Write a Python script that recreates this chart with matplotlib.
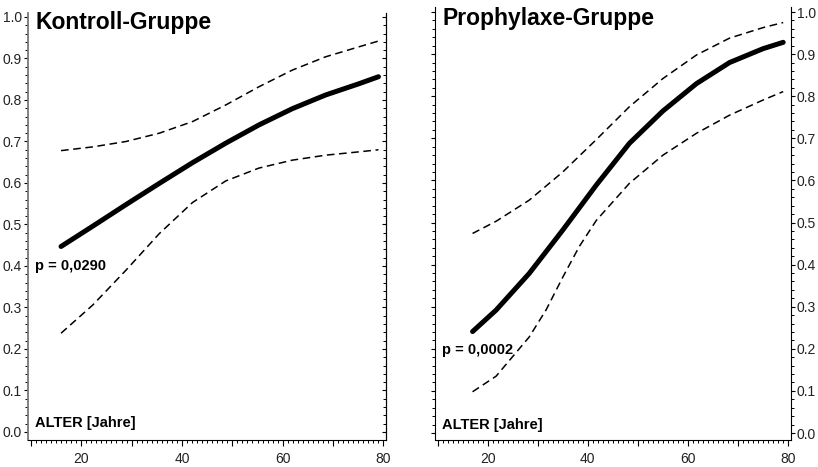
import matplotlib
matplotlib.use("Agg")
import matplotlib.pyplot as plt
from matplotlib.ticker import MultipleLocator, FuncFormatter

plt.rcParams["font.family"] = ["Liberation Sans", "DejaVu Sans"]

# Kontroll-Gruppe
AGE_K = [16.0, 22.3, 28.9, 35.5, 42.1, 48.7, 55.3, 61.9, 68.5, 75.1, 79.0]
FIT_K = [0.447, 0.496, 0.548, 0.599, 0.649, 0.696, 0.740, 0.779, 0.812, 0.839, 0.856]
UP_K = [0.678, 0.687, 0.700, 0.720, 0.748, 0.788, 0.832, 0.872, 0.904, 0.928, 0.942]
LO_K = [0.238, 0.306, 0.390, 0.478, 0.553, 0.605, 0.636, 0.655, 0.667, 0.675, 0.680]

# Prophylaxe-Gruppe
AGE_P = [17.0, 21.7, 28.3, 35.0, 41.7, 48.3, 55.0, 61.7, 68.3, 75.0, 79.0]
FIT_P = [0.241, 0.292, 0.379, 0.482, 0.589, 0.688, 0.765, 0.830, 0.880, 0.913, 0.928]
UP_P = [0.474, 0.503, 0.553, 0.620, 0.697, 0.775, 0.842, 0.898, 0.938, 0.963, 0.975]
AGE_P_LO = [17.0, 21.7, 28.3, 31.7, 35.0, 38.3, 41.7, 48.3, 55.0, 61.7, 68.3, 75.0, 79.0]
LO_P = [0.098, 0.135, 0.228, 0.293, 0.370, 0.443, 0.505, 0.593, 0.660, 0.712, 0.755, 0.791, 0.811]

TITLES = ["Kontroll-Gruppe", "Prophylaxe-Gruppe"]
PVALS = ["p = 0,0290", "p = 0,0002"]
XLABEL = "ALTER [Jahre]"

W, H = 818, 467
fig = plt.figure(figsize=(W / 100, H / 100), dpi=100)


def px_axes(x0, y0, x1, y1):
    return fig.add_axes([x0 / W, (H - y1) / H, (x1 - x0) / W, (y1 - y0) / H])


def label20(v, pos):
    return f"{int(round(v))}" if round(v) % 20 == 0 else ""


def setup(ax, ylim):
    ax.set_xlim(9.5, 80.5)
    ax.set_ylim(*ylim)
    ax.spines["top"].set_visible(False)
    ax.xaxis.set_major_locator(MultipleLocator(10))
    ax.xaxis.set_minor_locator(MultipleLocator(1))
    ax.xaxis.set_major_formatter(FuncFormatter(label20))
    ax.yaxis.set_major_locator(MultipleLocator(0.1))
    ax.yaxis.set_minor_locator(MultipleLocator(0.02))
    ax.yaxis.set_major_formatter(FuncFormatter(lambda v, p: f"{v:.1f}"))
    ax.tick_params(axis="x", which="major", direction="out", length=4.5, width=0.8,
                   labelsize=10, pad=4, labelcolor="#222")
    ax.tick_params(axis="x", which="minor", direction="out", length=2.5, width=0.7)
    ax.tick_params(axis="y", which="major", direction="out", length=3, width=0.8,
                   labelsize=10, pad=1.5, labelcolor="#222")
    ax.tick_params(axis="y", which="minor", direction="out", length=2, width=0.7)


def curves(ax, age, fit, up, lo, age_lo):
    ax.plot(age, fit, color="black", lw=3.6, solid_capstyle="round",
            solid_joinstyle="round")
    ax.plot(age, up, color="black", lw=1.1, dashes=(5, 3))
    ax.plot(age_lo, lo, color="black", lw=1.1, dashes=(5, 3))


# linkes Panel
ax1 = px_axes(28.3, 13, 386, 440)
setup(ax1, (-0.0193, 1.0096))
ax1.spines["left"].set_color("#777")
ax1.spines["left"].set_linewidth(1.3)
tw = ax1.twinx()
tw.set_ylim(ax1.get_ylim())
for s in ["left", "top", "bottom"]:
    tw.spines[s].set_visible(False)
tw.yaxis.set_major_locator(MultipleLocator(0.1))
tw.yaxis.set_minor_locator(MultipleLocator(0.02))
tw.tick_params(axis="y", which="both", direction="in", labelright=False)
tw.tick_params(axis="y", which="major", length=3, width=0.8)
tw.tick_params(axis="y", which="minor", length=2, width=0.7)
curves(ax1, AGE_K, FIT_K, UP_K, LO_K, AGE_K)

# rechtes Panel
ax2 = px_axes(435, 7, 790.7, 440)
setup(ax2, (-0.0166, 1.0119))
ax2.yaxis.set_ticks_position("both")
ax2.tick_params(axis="y", which="both", labelleft=False, labelright=True)
curves(ax2, AGE_P, FIT_P, UP_P, LO_P, AGE_P_LO)

for ax, title, pv, (ty, py, ly) in zip(
    [ax1, ax2], TITLES, PVALS, [(0.977, 0.407, 0.040), (0.974, 0.209, 0.035)]
):
    ax.text(0.02, ty, title, transform=ax.transAxes, ha="left", va="center",
            fontsize=16.5, fontweight="bold")
    ax.text(0.02, py, pv, transform=ax.transAxes, ha="left", va="center",
            fontsize=10.5, fontweight="bold")
    ax.text(0.02, ly, XLABEL, transform=ax.transAxes, ha="left", va="center",
            fontsize=10.5, fontweight="bold")

fig.savefig("out.png", dpi=100)
